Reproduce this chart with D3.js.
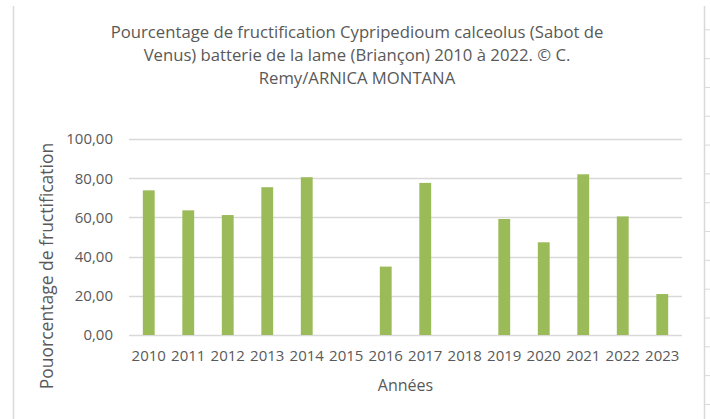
<!DOCTYPE html>
<html><head><meta charset="utf-8">
<script src="https://cdn.jsdelivr.net/npm/d3@7"></script>
<style>
html,body{margin:0;padding:0;background:#fff;}
svg{display:block;font-family:"Open Sans",sans-serif;}
</style></head>
<body><svg id="c" width="710" height="419"></svg>
<script>
const years = ["2010","2011","2012","2013","2014","2015","2016","2017","2018","2019","2020","2021","2022","2023"];
const values = [73.8,63.6,61.2,75.4,80.5,null,34.9,77.6,null,59.2,47.3,82.0,60.5,20.9];
const yTicks = [0,20,40,60,80,100];
const titleLines = ["Pourcentage de fructification Cypripedioum calceolus (Sabot de","Venus) batterie de la lame (Briançon) 2010 à 2022. © C.","Remy/ARNICA MONTANA"];
const xTitle = "Années";
const yTitle = "Pouorcentage de fructification";

const svg = d3.select("#c");
const W = 710, H = 419;
const m = {left:129, right:682, top:139, bottom:335};
const textCol = "#595959", gridCol = "#D9D9D9", barCol = "#9BBB59";

// spreadsheet frame
svg.append("line").attr("x1",13.5).attr("x2",13.5).attr("y1",6).attr("y2",H).attr("stroke","#D9D9D9").attr("stroke-width",1.5);
svg.append("line").attr("x1",704.5).attr("x2",704.5).attr("y1",6).attr("y2",H).attr("stroke","#D9D9D9").attr("stroke-width",1.5);
svg.selectAll("line.row").data(d3.range(0,14)).join("line").attr("class","row")
  .attr("x1",705).attr("x2",710).attr("y1",d=>29.3+d*28.82+0.5).attr("y2",d=>29.3+d*28.82+0.5)
  .attr("stroke","#D9D9D9");

const x = d3.scaleBand().domain(years).range([m.left,m.right]).paddingInner(0.7).paddingOuter(0.35);
const y = d3.scaleLinear().domain([0,100]).range([m.bottom,m.top]);

// gridlines
svg.append("g").selectAll("line").data(yTicks).join("line")
  .attr("x1",m.left).attr("x2",m.right)
  .attr("y1",d=>Math.round(y(d))+0.5).attr("y2",d=>Math.round(y(d))+0.5)
  .attr("stroke",gridCol).attr("stroke-width",1.3);

// bars
svg.append("g").selectAll("rect").data(years.map((yr,i)=>({yr,v:values[i]})).filter(d=>d.v!=null)).join("rect")
  .attr("x",d=>x(d.yr)).attr("width",x.bandwidth())
  .attr("y",d=>y(d.v)).attr("height",d=>y(0)-y(d.v))
  .attr("fill",barCol);

// y axis
const yAxis = d3.axisLeft(y).tickValues(yTicks).tickSize(0).tickPadding(16)
  .tickFormat(d=>d3.format(".2f")(d).replace(".",","));
const gy = svg.append("g").attr("transform",`translate(${m.left},0)`).call(yAxis);
gy.select(".domain").remove();
gy.selectAll("text").attr("fill",textCol).style("font-size","15px").style("font-family","'Open Sans',sans-serif");

// x axis
const xAxis = d3.axisBottom(x).tickSize(0).tickPadding(15);
const gx = svg.append("g").attr("transform",`translate(0,${m.bottom})`).call(xAxis);
gx.select(".domain").remove();
gx.selectAll("text").attr("fill",textCol).style("font-size","15px").style("font-family","'Open Sans',sans-serif");

// title
svg.append("g").selectAll("text").data(titleLines).join("text")
  .attr("x",357).attr("y",(d,i)=>38+i*23).attr("text-anchor","middle")
  .attr("fill",textCol).style("font-size","16.7px").text(d=>d);

// axis titles
svg.append("text").attr("x",(m.left+m.right)/2).attr("y",391).attr("text-anchor","middle")
  .attr("fill",textCol).style("font-size","16px").text(xTitle);
svg.append("text").attr("transform","translate(53,266) rotate(-90)").attr("text-anchor","middle")
  .attr("fill",textCol).style("font-size","17.5px").text(yTitle);
</script></body></html>
